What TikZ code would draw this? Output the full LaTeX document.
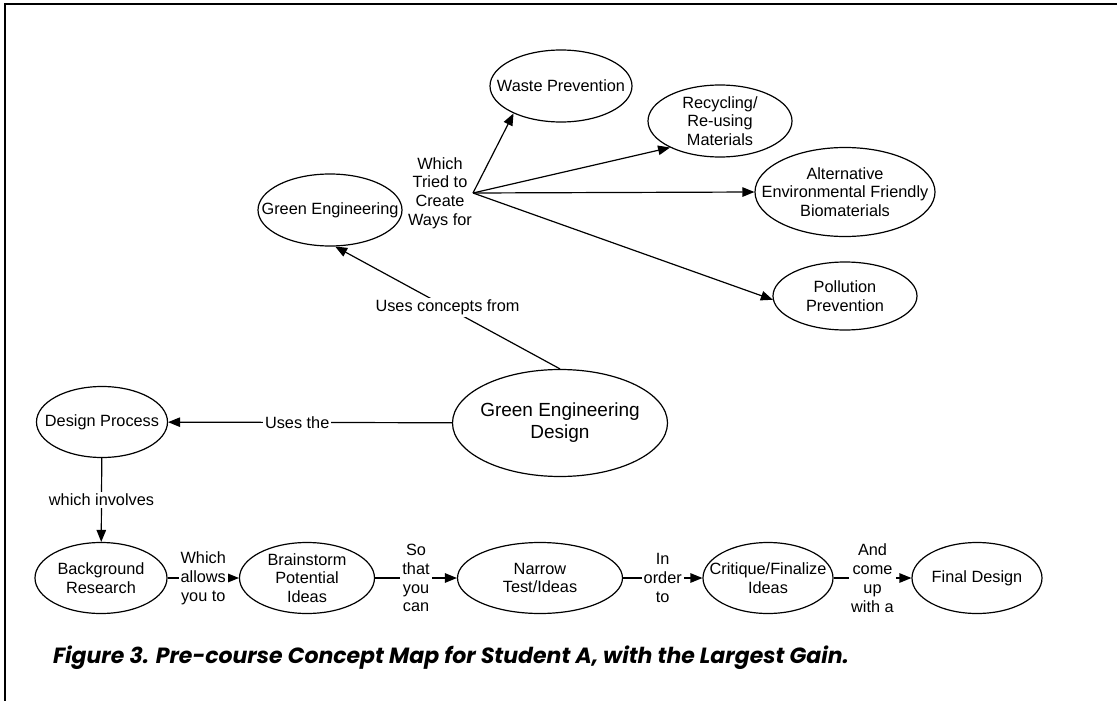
\documentclass[tikz,border=0pt]{standalone}
\usepackage{fontspec}
\setmainfont{Liberation Sans}
\newfontfamily\capfont{Poppins}
\usetikzlibrary{shapes.geometric,arrows.meta}
\newcommand\lblfont{\fontsize{16.3pt}{18.8pt}\selectfont}
\newcommand\bigfont{\fontsize{19pt}{22pt}\selectfont}
\tikzset{
  ell/.style 2 args={draw, ellipse, minimum width=#1, minimum height=#2, inner sep=0pt, line width=1.2pt},
  txt/.style={font=\lblfont, align=center, inner sep=0pt},
  lab/.style={font=\lblfont, align=center, fill=white, inner sep=2pt},
  arr/.style={-{Triangle[length=12pt,width=9.5pt]}, line width=1.2pt},
}
\begin{document}
\begin{tikzpicture}[x=1pt,y=-1pt]
\useasboundingbox (0,0) rectangle (1117,701);
\draw[line width=1.2pt] (5,701) -- (5,4) -- (1117,4);

% nodes
\node[ell={142pt}{72pt}, label={[txt]center:Waste Prevention}] (wp) at (561,86) {};
\node[ell={144pt}{72pt}, label={[txt]center:{Recycling/\\Re-using\\Materials}}] (rc) at (720,121) {};
\node[ell={180pt}{89pt}, label={[txt]center:{Alternative\\Environmental Friendly\\Biomaterials}}] (alt) at (845,192) {};
\node[ell={144pt}{68pt}, label={[txt]center:{Pollution\\Prevention}}] (pp) at (845,296) {};
\node[ell={144pt}{72pt}, label={[txt]center:Green Engineering}] (ge) at (330,210) {};
\node[ell={215pt}{107pt}, label={[txt,font=\bigfont]center:{Green Engineering\\Design}}] (ged) at (560,423) {};
\node[ell={131pt}{71pt}, label={[txt]center:Design Process}] (dp) at (102,422) {};
\node[ell={132pt}{71pt}, label={[txt]center:{Background\\Research}}] (br) at (101,578) {};
\node[ell={135pt}{71pt}, label={[txt]center:{Brainstorm\\Potential\\Ideas}}] (bs) at (307,578) {};
\node[ell={165pt}{71pt}, label={[txt]center:{Narrow\\Test/Ideas}}] (nt) at (540,578) {};
\node[ell={130pt}{71pt}, label={[txt]center:{Critique/Finalize\\Ideas}}] (cf) at (768,578) {};
\node[ell={130pt}{71pt}, label={[txt]center:Final Design}] (fd) at (977,578) {};

% hub
\node[txt] (hublab) at (440,193) {Which\\Tried to\\Create\\Ways for};
\coordinate (hub) at (473,193);
\draw[arr] (hub) -- (wp.210);
\draw[arr] (hub) -- (rc.208);
\draw[arr] (hub) -- (alt.west);
\draw[arr] (hub) -- (pp.183);

% connectors
\draw[arr] (ged.north) -- node[lab]{Uses concepts from} (ge.278);
\draw[arr] (ged) -- node[lab, pos=0.545]{Uses the} (dp);
\draw[arr] (dp) -- node[lab]{which involves} (br);
\draw[arr] (br) -- node[lab]{Which\\allows\\you to} (bs);
\draw[arr] (bs) -- node[lab]{So\\that\\you\\can} (nt);
\draw[arr] (nt) -- node[lab]{In\\order\\to} (cf);
\draw[arr] (cf) -- node[lab]{And\\come\\up\\with a} (fd);

% caption
\node[anchor=base west, inner sep=0pt, font=\capfont\bfseries\itshape\fontsize{22pt}{25pt}\selectfont] (cap) at (53,663) {Figure 3. Pre-course Concept Map for Student A, with the Largest Gain.};
\end{tikzpicture}
\end{document}
